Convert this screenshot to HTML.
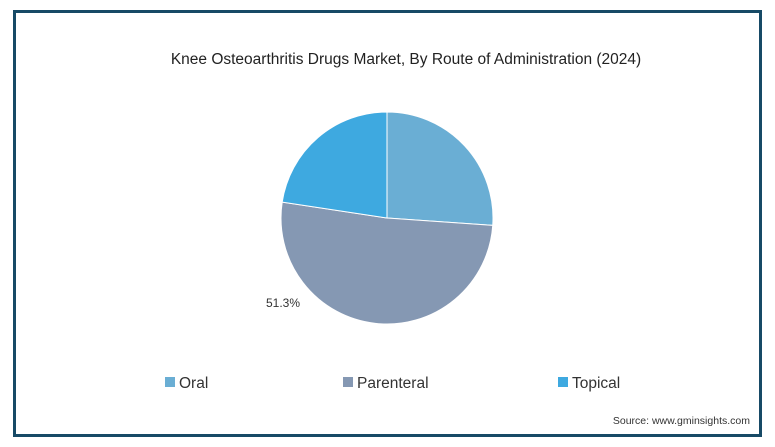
<!DOCTYPE html>
<html><head><meta charset="utf-8"><style>
body{margin:0;background:#fff;width:775px;height:447px;overflow:hidden;font-family:"Liberation Sans",sans-serif}
#frame{position:absolute;left:13px;top:10px;width:743px;height:421px;border:3px solid #174a66;background:#fff}
</style></head><body>
<div id="frame"></div>
<svg id="chart" width="775" height="447" style="position:absolute;left:0;top:0">
<text x="406" y="64" text-anchor="middle" font-size="15.5" fill="#222">Knee Osteoarthritis Drugs Market, By Route of Administration (2024)</text>
<g id="slices"></g>
<text x="283" y="307" text-anchor="middle" font-size="12" fill="#333">51.3%</text>
<g id="legend"></g>
<text x="750" y="424" text-anchor="end" font-size="10.5" fill="#333">Source: www.gminsights.com</text>
</svg>
<script>
const categories=["Oral","Parenteral","Topical"];
const values=[26.1,51.3,22.6];
const colors=["#6aaed4","#8598b3","#3ea9e0"];
const cx=387,cy=218,r=106;
const ns="http://www.w3.org/2000/svg";
const g=document.getElementById('slices');
const total=values.reduce((a,b)=>a+b,0);
let a0=0;
values.forEach((v,i)=>{
  const a1=a0+v/total*2*Math.PI;
  const x0=cx+r*Math.sin(a0),y0=cy-r*Math.cos(a0),x1=cx+r*Math.sin(a1),y1=cy-r*Math.cos(a1);
  const p=document.createElementNS(ns,'path');
  p.setAttribute('d',`M${cx},${cy}L${x0},${y0}A${r},${r} 0 ${a1-a0>Math.PI?1:0} 1 ${x1},${y1}Z`);
  p.setAttribute('fill',colors[i]);p.setAttribute('stroke','#fff');p.setAttribute('stroke-width','1');
  
  
  g.appendChild(p);a0=a1;
});
const lg=document.getElementById('legend');
const lx=[165,343,558];
categories.forEach((c,i)=>{
  const gr=document.createElementNS(ns,'g');
  
  
  const rc=document.createElementNS(ns,'rect');
  rc.setAttribute('x',lx[i]);rc.setAttribute('y',377);rc.setAttribute('width',10);rc.setAttribute('height',10);rc.setAttribute('fill',colors[i]);
  const t=document.createElementNS(ns,'text');
  t.setAttribute('x',lx[i]+14);t.setAttribute('y',388);t.setAttribute('font-size','15.5');t.setAttribute('fill','#333');
  t.textContent=c;
  gr.appendChild(rc);gr.appendChild(t);lg.appendChild(gr);
});
</script>
</body></html>
